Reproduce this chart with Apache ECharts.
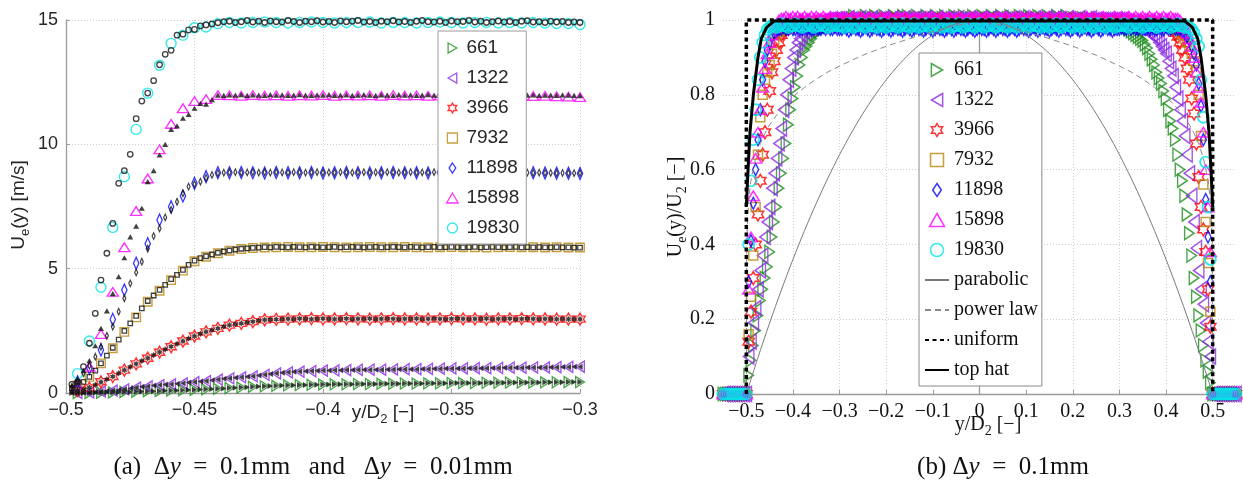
<!DOCTYPE html>
<html><head><meta charset="utf-8">
<script src="https://cdn.jsdelivr.net/npm/echarts@6/dist/echarts.min.js"></script>
<style>html,body{margin:0;padding:0;background:#fff}#c{width:1243px;height:484px}</style>
</head><body><div id="c"></div>
<script>
// ---------- labels ----------
const reynolds = ['661','1322','3966','7932','11898','15898','19830'];
const profileNames = ['parabolic','power law','uniform','top hat'];
const leftXTicks = [-0.5,-0.45,-0.4,-0.35,-0.3];
const rightXTicks = [-0.5,-0.4,-0.3,-0.2,-0.1,0,0.1,0.2,0.3,0.4,0.5];

// ---------- panel (a): y/D2 stations ----------
const xCoarse = [-0.4955,-0.4909,-0.4864,-0.4818,-0.4773,-0.4727,-0.4682,-0.4636,-0.4591,-0.4545,
-0.4500,-0.4455,-0.4409,-0.4364,-0.4318,-0.4273,-0.4227,-0.4182,-0.4136,-0.4091,
-0.4045,-0.4000,-0.3955,-0.3909,-0.3864,-0.3818,-0.3773,-0.3727,-0.3682,-0.3636,
-0.3591,-0.3545,-0.3500,-0.3455,-0.3409,-0.3364,-0.3318,-0.3273,-0.3227,-0.3182,
-0.3136,-0.3091,-0.3045,-0.3000];
const xFine = [-0.4977,-0.4955,-0.4932,-0.4909,-0.4886,-0.4864,-0.4841,-0.4818,-0.4795,-0.4773,
-0.4750,-0.4727,-0.4705,-0.4682,-0.4659,-0.4636,-0.4614,-0.4591,-0.4568,-0.4545,
-0.4523,-0.4500,-0.4477,-0.4455,-0.4432,-0.4409,-0.4386,-0.4364,-0.4341,-0.4318,
-0.4295,-0.4273,-0.4250,-0.4227,-0.4205,-0.4182,-0.4159,-0.4136,-0.4114,-0.4091,
-0.4068,-0.4045,-0.4023,-0.4000,-0.3977,-0.3955,-0.3932,-0.3909,-0.3886,-0.3864,
-0.3841,-0.3818,-0.3795,-0.3773,-0.3750,-0.3727,-0.3705,-0.3682,-0.3659,-0.3636,
-0.3614,-0.3591,-0.3568,-0.3545,-0.3523,-0.3500,-0.3477,-0.3455,-0.3432,-0.3409,
-0.3386,-0.3364,-0.3341,-0.3318,-0.3295,-0.3273,-0.3250,-0.3227,-0.3205,-0.3182,
-0.3159,-0.3136,-0.3114,-0.3091,-0.3068,-0.3045,-0.3023,-0.3000];

// panel (a): U_e [m/s], dy = 0.1 mm (coloured markers)
const a661 = [0,0,0.01,0.02,0.04,0.05,0.07,0.08,0.1,0.11,0.13,0.15,0.17,0.2,0.22,0.25,0.27,0.29,0.31,0.32,0.33,0.34,0.35,0.35,0.36,0.36,0.37,0.37,0.38,0.38,0.39,0.39,0.4,0.4,0.4,0.41,0.41,0.42,0.42,0.42,0.43,0.43,0.44,0.44];
const a1322 = [0,0.02,0.06,0.1,0.15,0.22,0.27,0.32,0.35,0.39,0.44,0.48,0.54,0.59,0.63,0.67,0.73,0.79,0.83,0.86,0.88,0.9,0.91,0.92,0.93,0.94,0.94,0.95,0.96,0.96,0.97,0.98,0.99,0.99,1,1,1.01,1.02,1.02,1.03,1.03,1.04,1.05,1.06];
const a3966 = [0.1,0.2,0.45,0.66,0.92,1.17,1.4,1.64,1.86,2.09,2.29,2.46,2.6,2.73,2.8,2.87,2.94,2.96,2.97,2.98,2.99,2.98,2.98,2.99,2.98,2.97,2.98,2.99,2.98,2.98,2.97,2.98,2.99,2.98,2.98,2.97,2.98,2.98,2.99,2.98,2.98,2.97,2.97,2.97];
const a7932 = [0.3,0.65,1.19,1.8,2.46,3.04,3.67,4.11,4.54,4.92,5.3,5.48,5.62,5.72,5.79,5.83,5.85,5.86,5.87,5.86,5.86,5.87,5.86,5.85,5.86,5.87,5.86,5.86,5.87,5.86,5.85,5.86,5.87,5.86,5.86,5.85,5.86,5.87,5.86,5.86,5.85,5.86,5.85,5.85];
const a11898 = [0.45,1,1.73,2.96,4.14,5.22,6,6.96,7.49,7.92,8.43,8.7,8.86,8.86,8.87,8.86,8.85,8.87,8.86,8.86,8.87,8.85,8.86,8.87,8.86,8.85,8.86,8.87,8.86,8.86,8.85,8.87,8.86,8.86,8.85,8.86,8.87,8.86,8.85,8.86,8.85,8.84,8.84,8.83];
const a15898 = [0.3,1.06,2.37,4.07,5.86,7.32,8.63,9.8,10.82,11.45,11.74,11.82,11.98,11.97,11.95,11.98,11.96,11.97,11.95,11.97,11.96,11.98,11.95,11.97,11.96,11.97,11.95,11.98,11.96,11.97,11.95,11.96,11.97,11.95,11.96,11.97,11.95,11.96,11.95,11.94,11.95,11.93,11.92,11.9];
const a19830 = [0.78,2.09,4.25,6.66,8.7,10.6,12.06,13.18,14.06,14.39,14.69,14.72,14.85,14.9,14.88,14.9,14.92,14.9,14.88,14.9,14.92,14.9,14.88,14.9,14.9,14.92,14.88,14.9,14.9,14.88,14.9,14.92,14.9,14.88,14.9,14.9,14.88,14.9,14.88,14.9,14.88,14.86,14.86,14.82];

// panel (a): U_e [m/s], dy = 0.01 mm (small black markers)
const k661 = [0,0,0,0,0.01,0.01,0.02,0.02,0.03,0.04,0.045,0.05,0.06,0.07,0.075,0.08,0.09,0.1,0.105,0.11,0.12,0.13,0.14,0.15,0.16,0.17,0.185,0.2,0.21,0.22,0.235,0.25,0.26,0.27,0.28,0.29,0.3,0.31,0.315,0.32,0.325,0.33,0.335,0.34,0.345,0.35,0.35,0.35,0.355,0.36,0.36,0.36,0.365,0.37,0.37,0.37,0.375,0.38,0.38,0.38,0.385,0.39,0.39,0.39,0.395,0.4,0.4,0.4,0.4,0.4,0.405,0.41,0.41,0.41,0.415,0.42,0.42,0.42,0.42,0.42,0.425,0.43,0.43,0.43,0.435,0.44,0.44,0.44];
const k1322 = [0,0,0.01,0.02,0.04,0.06,0.08,0.1,0.12,0.15,0.18,0.22,0.25,0.27,0.3,0.32,0.34,0.35,0.37,0.39,0.42,0.44,0.46,0.48,0.51,0.54,0.57,0.59,0.61,0.63,0.65,0.67,0.7,0.73,0.76,0.79,0.81,0.83,0.85,0.86,0.87,0.88,0.89,0.9,0.905,0.91,0.915,0.92,0.925,0.93,0.935,0.94,0.94,0.94,0.945,0.95,0.955,0.96,0.96,0.96,0.965,0.97,0.975,0.98,0.985,0.99,0.99,0.99,0.995,1,1,1,1.005,1.01,1.015,1.02,1.02,1.02,1.025,1.03,1.03,1.03,1.035,1.04,1.045,1.05,1.055,1.06];
const k3966 = [0.08,0.1,0.15,0.22,0.33,0.44,0.55,0.66,0.79,0.92,1.05,1.17,1.29,1.4,1.52,1.64,1.75,1.86,1.98,2.09,2.19,2.29,2.38,2.46,2.53,2.6,2.67,2.73,2.77,2.8,2.84,2.87,2.91,2.94,2.95,2.96,2.97,2.98,2.97,2.99,2.98,2.97,2.98,2.99,2.98,2.97,2.98,2.99,2.97,2.98,2.98,2.99,2.97,2.98,2.99,2.98,2.97,2.98,2.98,2.99,2.97,2.98,2.99,2.98,2.97,2.98,2.99,2.98,2.97,2.98,2.98,2.99,2.97,2.98,2.98,2.99,2.97,2.98,2.99,2.98,2.97,2.98,2.98,2.97,2.98,2.97,2.97,2.97];
const k7932 = [0.2,0.3,0.45,0.65,0.9,1.19,1.5,1.82,2.15,2.5,2.8,3.1,3.4,3.7,3.92,4.15,4.35,4.58,4.75,4.95,5.15,5.32,5.42,5.5,5.57,5.64,5.69,5.73,5.77,5.8,5.82,5.84,5.85,5.87,5.86,5.88,5.87,5.86,5.88,5.87,5.86,5.88,5.87,5.86,5.87,5.88,5.86,5.87,5.88,5.87,5.86,5.87,5.88,5.86,5.87,5.88,5.87,5.86,5.88,5.87,5.86,5.87,5.88,5.86,5.87,5.88,5.87,5.86,5.87,5.88,5.86,5.87,5.88,5.87,5.86,5.87,5.88,5.86,5.87,5.86,5.87,5.86,5.86,5.87,5.86,5.86,5.85,5.85];
const k11898 = [0.25,0.5,0.8,1.1,1.46,1.86,2.3,2.67,3.27,3.81,4.41,4.85,5.28,5.8,6.31,6.62,7.06,7.36,7.69,8.03,8.3,8.4,8.5,8.65,8.77,8.84,8.86,8.87,8.88,8.86,8.87,8.88,8.86,8.87,8.86,8.88,8.87,8.86,8.88,8.87,8.86,8.87,8.88,8.86,8.87,8.86,8.88,8.87,8.86,8.87,8.88,8.86,8.87,8.86,8.88,8.87,8.86,8.87,8.88,8.86,8.87,8.86,8.88,8.87,8.86,8.87,8.88,8.86,8.87,8.86,8.88,8.87,8.86,8.87,8.86,8.87,8.86,8.85,8.86,8.85,8.86,8.85,8.85,8.84,8.85,8.84,8.84,8.84];
const k15898 = [0.3,0.55,0.9,1.3,1.9,2.6,3.3,4,4.68,5.44,6.28,6.71,7.43,8.5,8.94,9.57,10,10.6,10.74,11.05,11.2,11.45,11.65,11.62,11.8,11.98,11.97,11.99,11.98,12,11.97,11.99,11.98,11.97,12,11.98,11.99,11.97,11.98,12,11.98,11.97,11.99,11.98,12,11.97,11.98,11.99,11.97,11.98,12,11.98,11.97,11.99,11.98,11.97,12,11.98,11.99,11.97,11.98,12,11.98,11.97,11.99,11.98,11.97,12,11.98,11.99,11.97,11.98,12,11.98,11.97,11.99,11.98,11.97,11.98,11.99,11.97,11.98,11.98,11.97,11.99,11.98,11.97,11.96];
const k19830 = [0.35,0.45,1.06,2,3.2,4.54,5.62,6.82,8.43,8.94,9.6,11.03,11.74,12.06,12.56,13.2,13.62,13.78,14.39,14.43,14.6,14.62,14.76,14.8,14.84,14.89,14.93,14.95,14.9,14.93,14.98,14.92,14.95,14.9,14.96,14.93,14.92,14.98,14.94,14.9,14.95,14.93,14.97,14.92,14.94,14.9,14.96,14.93,14.95,14.98,14.92,14.94,14.9,14.95,14.93,14.97,14.92,14.94,14.9,14.95,14.98,14.93,14.92,14.95,14.9,14.96,14.93,14.94,14.98,14.92,14.95,14.9,14.93,14.96,14.92,14.94,14.9,14.95,14.97,14.92,14.93,14.9,14.95,14.92,14.94,14.9,14.92,14.9];

// ---------- panel (b): y/D2 stations ----------
const xR = [-0.55,-0.545,-0.54,-0.535,-0.53,-0.525,-0.52,-0.515,-0.51,-0.505,
-0.5,-0.495,-0.49,-0.485,-0.48,-0.475,-0.47,-0.465,-0.46,-0.455,
-0.45,-0.445,-0.44,-0.435,-0.43,-0.425,-0.42,-0.415,-0.41,-0.405,
-0.4,-0.395,-0.39,-0.385,-0.38,-0.375,-0.37,-0.365,-0.36,-0.355,
-0.35,-0.345,-0.34,-0.335,-0.33,-0.325,-0.32,-0.315,-0.31,-0.305,
-0.3,-0.295,-0.29,-0.285,-0.28,-0.275,-0.27,-0.265,-0.26,-0.255,
-0.25,-0.245,-0.24,-0.235,-0.23,-0.225,-0.22,-0.215,-0.21,-0.205,
-0.2,-0.195,-0.19,-0.185,-0.18,-0.175,-0.17,-0.165,-0.16,-0.155,
-0.15,-0.145,-0.14,-0.135,-0.13,-0.125,-0.12,-0.115,-0.11,-0.105,
-0.1,-0.095,-0.09,-0.085,-0.08,-0.075,-0.07,-0.065,-0.06,-0.055,
-0.05,-0.045,-0.04,-0.035,-0.03,-0.025,-0.02,-0.015,-0.01,-0.005,
0,0.005,0.01,0.015,0.02,0.025,0.03,0.035,0.04,0.045,
0.05,0.055,0.06,0.065,0.07,0.075,0.08,0.085,0.09,0.095,
0.1,0.105,0.11,0.115,0.12,0.125,0.13,0.135,0.14,0.145,
0.15,0.155,0.16,0.165,0.17,0.175,0.18,0.185,0.19,0.195,
0.2,0.205,0.21,0.215,0.22,0.225,0.23,0.235,0.24,0.245,
0.25,0.255,0.26,0.265,0.27,0.275,0.28,0.285,0.29,0.295,
0.3,0.305,0.31,0.315,0.32,0.325,0.33,0.335,0.34,0.345,
0.35,0.355,0.36,0.365,0.37,0.375,0.38,0.385,0.39,0.395,
0.4,0.405,0.41,0.415,0.42,0.425,0.43,0.435,0.44,0.445,
0.45,0.455,0.46,0.465,0.47,0.475,0.48,0.485,0.49,0.495,
0.5,0.505,0.51,0.515,0.52,0.525,0.53,0.535,0.54,0.545,0.55];
// U_e/U_2 outside the pipe (|y/D2| >= 0.5)
const wallZeros = [0,0,0,0,0,0,0,0,0,0,0];
// rising side, y/D2 = -0.495 .. -0.3
const rise661 = [0.05,0.09,0.13,0.17,0.21,0.25,0.28,0.31,0.34,0.38,0.42,0.46,0.5,0.55,0.59,0.63,0.67,0.72,0.76,0.79,0.82,0.85,0.88,0.9,0.92,0.93,0.94,0.95,0.96,0.965,0.97,0.975,0.98,0.98,0.985,0.99,0.99,0.995,0.995,1];
const rise1322 = [0.1,0.14,0.19,0.23,0.28,0.33,0.37,0.42,0.46,0.5,0.55,0.59,0.63,0.67,0.71,0.76,0.8,0.84,0.87,0.9,0.92,0.94,0.95,0.96,0.97,0.975,0.98,0.98,0.985,0.99,0.99,0.995,0.995,1,1,1,1,1,1,1];
const rise3966 = [0.14,0.22,0.31,0.4,0.48,0.57,0.64,0.7,0.76,0.81,0.86,0.89,0.92,0.94,0.96,0.97,0.975,0.98,0.985,0.99,0.99,0.99,0.995,0.995,0.99,0.995,0.995,0.99,0.995,0.995,0.99,0.995,0.995,0.99,0.995,0.995,0.99,0.995,0.995,0.995];
const rise7932 = [0.16,0.26,0.37,0.5,0.64,0.74,0.8,0.84,0.86,0.88,0.91,0.94,0.96,0.97,0.975,0.98,0.985,0.99,0.99,0.99,0.995,0.99,0.99,0.995,0.99,0.99,0.995,0.99,0.99,0.995,0.99,0.99,0.995,0.99,0.99,0.995,0.99,0.99,0.995,0.99];
const rise11898 = [0.3,0.41,0.51,0.6,0.68,0.76,0.84,0.89,0.92,0.94,0.955,0.965,0.97,0.975,0.975,0.98,0.975,0.975,0.98,0.975,0.975,0.98,0.975,0.975,0.98,0.975,0.98,0.975,0.975,0.98,0.975,0.975,0.98,0.975,0.98,0.975,0.975,0.98,0.975,0.975];
const rise15898 = [0.28,0.42,0.53,0.63,0.7,0.76,0.82,0.87,0.91,0.94,0.96,0.98,0.99,1,1.005,1.005,1.01,1.005,1.005,1.01,1.005,1.01,1.005,1.005,1.01,1.005,1.005,1.01,1.005,1.01,1.005,1.005,1.01,1.005,1.005,1.01,1.005,1.005,1.01,1.005];
const rise19830 = [0.4,0.57,0.68,0.76,0.84,0.9,0.94,0.96,0.975,0.98,0.985,0.985,0.98,0.985,0.99,0.985,0.985,0.98,0.985,0.985,0.99,0.985,0.985,0.98,0.985,0.985,0.99,0.985,0.98,0.985,0.985,0.99,0.985,0.985,0.98,0.985,0.985,0.99,0.985,0.985];
// core, y/D2 = -0.295 .. 0.295
const core661 = [1,1,1.005,1,1.005,1.01,1,1.005,1,1.005,1.01,1.005,1,1.005,1.01,1.005,1,1.005,1.01,1.005,1,1.005,1.01,1.005,1,1.005,1.01,1.005,1.01,1.005,1,1.005,1.01,1.005,1,1.005,1.01,1.005,1,1.005,1.01,1.005,1,1.005,1.01,1.005,1,1.005,1.01,1.005,1,1.005,1.01,1.005,1,1.005,1.01,1.005,1,1.005,1.01,1.005,1,1.005,1.01,1.005,1,1.005,1.01,1.005,1,1.005,1.01,1.005,1,1.005,1.01,1.005,1,1.005,1.01,1.005,1,1.005,1.01,1.005,1,1.005,1.01,1.005,1,1.005,1.01,1.005,1,1.005,1.01,1.005,1,1.005,1,1.005,1,1.005,1,1,1.005,1,1,1.005,1,1,0.995,1,0.995,0.995,1,0.995,0.99];
const core1322 = [1,0.995,1,1.005,1,1,0.995,1,1.005,1,1,0.995,1,1.005,1,0.995,1,1,1.005,1,0.995,1,1.005,1,1,0.995,1,1.005,1,0.995,1,1,1.005,1,0.995,1,1.005,1,1,0.995,1,1.005,1,0.995,1,1,1.005,1,0.995,1,1.005,1,1,0.995,1,1.005,1,0.995,1,1,1.005,1,0.995,1,1.005,1,1,0.995,1,1.005,1,0.995,1,1,1.005,1,0.995,1,1.005,1,1,0.995,1,1.005,1,0.995,1,1,1.005,1,0.995,1,1.005,1,1,0.995,1,1.005,1,0.995,1,1,1.005,1,0.995,1,1,1.005,1,1,1,1,1,1,1,1,1,1,1];
const core3966 = [0.995,0.99,0.995,1,0.995,0.99,0.995,0.995,1,0.995,0.99,0.995,0.995,1,0.995,0.99,0.995,1,0.995,0.995,0.99,0.995,1,0.995,0.995,0.99,0.995,1,0.995,0.99,0.995,0.995,1,0.995,0.99,0.995,0.995,1,0.995,0.99,0.995,1,0.995,0.995,0.99,0.995,1,0.995,0.99,0.995,0.995,1,0.995,0.99,0.995,0.995,1,0.995,0.99,0.995,1,0.995,0.995,0.99,0.995,1,0.995,0.99,0.995,0.995,1,0.995,0.99,0.995,0.995,1,0.995,0.99,0.995,1,0.995,0.995,0.99,0.995,1,0.995,0.99,0.995,0.995,1,0.995,0.99,0.995,0.995,1,0.995,0.99,0.995,1,0.995,0.995,0.99,0.995,1,0.995,0.995,0.99,0.995,1,0.995,0.99,0.995,0.995,1,0.995,0.99,0.995,0.995,0.995];
const core7932 = [0.99,0.985,0.99,0.995,0.99,0.985,0.99,0.99,0.995,0.99,0.985,0.99,0.995,0.99,0.99,0.985,0.99,0.995,0.99,0.985,0.99,0.99,0.995,0.99,0.985,0.99,0.995,0.99,0.99,0.985,0.99,0.995,0.99,0.985,0.99,0.99,0.995,0.99,0.985,0.99,0.995,0.99,0.99,0.985,0.99,0.995,0.99,0.985,0.99,0.99,0.995,0.99,0.985,0.99,0.995,0.99,0.99,0.985,0.99,0.995,0.99,0.985,0.99,0.99,0.995,0.99,0.985,0.99,0.995,0.99,0.99,0.985,0.99,0.995,0.99,0.985,0.99,0.99,0.995,0.99,0.985,0.99,0.995,0.99,0.99,0.985,0.99,0.995,0.99,0.985,0.99,0.99,0.995,0.99,0.985,0.99,0.995,0.99,0.99,0.985,0.99,0.995,0.99,0.985,0.99,0.99,0.995,0.99,0.985,0.99,0.995,0.99,0.99,0.985,0.99,0.995,0.99,0.99,0.99];
const core11898 = [0.975,0.98,0.975,0.97,0.975,0.98,0.975,0.975,0.97,0.975,0.98,0.975,0.97,0.975,0.98,0.975,0.975,0.97,0.975,0.98,0.975,0.97,0.975,0.98,0.975,0.975,0.97,0.975,0.98,0.975,0.97,0.975,0.98,0.975,0.975,0.97,0.975,0.98,0.975,0.97,0.975,0.98,0.975,0.975,0.97,0.975,0.98,0.975,0.97,0.975,0.98,0.975,0.975,0.97,0.975,0.98,0.975,0.97,0.975,0.98,0.975,0.975,0.97,0.975,0.98,0.975,0.97,0.975,0.98,0.975,0.975,0.97,0.975,0.98,0.975,0.97,0.975,0.98,0.975,0.975,0.97,0.975,0.98,0.975,0.97,0.975,0.98,0.975,0.975,0.97,0.975,0.98,0.975,0.97,0.975,0.98,0.975,0.975,0.97,0.975,0.98,0.975,0.97,0.975,0.98,0.975,0.975,0.97,0.975,0.98,0.975,0.97,0.975,0.98,0.975,0.975,0.97,0.975,0.975];
const core15898 = [1.005,1.01,1.005,1,1.005,1.01,1.005,1.005,1.01,1.005,1,1.005,1.01,1.005,1.005,1,1.005,1.01,1.005,1.005,1.01,1.005,1,1.005,1.01,1.005,1.005,1.01,1.005,1,1.005,1.01,1.005,1.005,1,1.005,1.01,1.005,1.005,1.01,1.005,1,1.005,1.01,1.005,1.005,1.01,1.005,1,1.005,1.01,1.005,1.005,1,1.005,1.01,1.005,1.005,1.01,1.005,1,1.005,1.01,1.005,1.005,1,1.005,1.01,1.005,1.005,1.01,1.005,1,1.005,1.01,1.005,1.005,1.01,1.005,1,1.005,1.01,1.005,1.005,1,1.005,1.01,1.005,1.005,1.01,1.005,1,1.005,1.01,1.005,1.005,1.01,1.005,1,1.005,1.01,1.005,1.005,1,1.005,1.01,1.005,1.005,1.01,1.005,1,1.005,1.01,1.005,1.005,1,1.005,1.01,1.005];
const core19830 = [0.985,0.98,0.985,0.99,0.985,0.98,0.985,0.985,0.99,0.985,0.98,0.985,0.99,0.985,0.985,0.98,0.985,0.99,0.985,0.98,0.985,0.985,0.99,0.985,0.98,0.985,0.99,0.985,0.985,0.98,0.985,0.99,0.985,0.98,0.985,0.985,0.99,0.985,0.98,0.985,0.99,0.985,0.985,0.98,0.985,0.99,0.985,0.98,0.985,0.985,0.99,0.985,0.98,0.985,0.99,0.985,0.985,0.98,0.985,0.99,0.985,0.98,0.985,0.985,0.99,0.985,0.98,0.985,0.99,0.985,0.985,0.98,0.985,0.99,0.985,0.98,0.985,0.985,0.99,0.985,0.98,0.985,0.99,0.985,0.985,0.98,0.985,0.99,0.985,0.98,0.985,0.985,0.99,0.985,0.98,0.985,0.99,0.985,0.985,0.98,0.985,0.99,0.985,0.98,0.985,0.985,0.99,0.985,0.98,0.985,0.99,0.985,0.985,0.98,0.985,0.99,0.985,0.98,0.985];
// falling side, y/D2 = 0.3 .. 0.495
const fall661 = [0.99,0.99,0.985,0.98,0.975,0.97,0.965,0.96,0.955,0.95,0.945,0.935,0.925,0.91,0.895,0.88,0.86,0.845,0.83,0.81,0.79,0.76,0.73,0.71,0.68,0.64,0.6,0.57,0.53,0.48,0.43,0.37,0.31,0.26,0.21,0.17,0.13,0.09,0.06,0.03];
const fall1322 = [1,1,1,0.995,0.995,0.99,0.99,0.985,0.985,0.98,0.98,0.975,0.97,0.965,0.96,0.955,0.95,0.94,0.93,0.92,0.91,0.89,0.87,0.85,0.82,0.79,0.76,0.73,0.69,0.64,0.59,0.53,0.46,0.39,0.33,0.28,0.24,0.19,0.14,0.1];
const fall3966 = [0.995,0.995,0.99,0.995,0.995,0.99,0.995,0.995,0.99,0.995,0.995,0.99,0.995,0.995,0.99,0.995,0.99,0.99,0.99,0.99,0.99,0.985,0.98,0.975,0.965,0.955,0.94,0.92,0.9,0.87,0.84,0.79,0.75,0.67,0.58,0.5,0.44,0.38,0.28,0.18];
const fall7932 = [0.99,0.995,0.99,0.99,0.995,0.99,0.99,0.995,0.99,0.99,0.995,0.99,0.99,0.995,0.99,0.99,0.995,0.99,0.99,0.995,0.99,0.99,0.99,0.985,0.98,0.975,0.97,0.96,0.95,0.94,0.93,0.91,0.89,0.86,0.8,0.69,0.56,0.46,0.35,0.22];
const fall11898 = [0.975,0.98,0.975,0.975,0.98,0.975,0.98,0.975,0.975,0.98,0.975,0.975,0.98,0.975,0.98,0.975,0.975,0.98,0.975,0.975,0.98,0.975,0.975,0.98,0.975,0.975,0.975,0.97,0.965,0.955,0.945,0.93,0.91,0.88,0.83,0.77,0.68,0.52,0.42,0.3];
const fall15898 = [1.005,1.01,1.005,1.005,1.01,1.005,1.005,1.01,1.005,1.005,1.01,1.005,1.005,1.01,1.005,1.005,1.01,1.005,1.005,1.01,1.005,1.005,1.01,1.005,1.005,1.005,1,0.99,0.98,0.965,0.95,0.93,0.9,0.86,0.82,0.78,0.7,0.6,0.5,0.38];
const fall19830 = [0.985,0.985,0.99,0.985,0.98,0.985,0.985,0.99,0.985,0.985,0.98,0.985,0.985,0.99,0.985,0.985,0.98,0.985,0.985,0.99,0.985,0.985,0.98,0.985,0.985,0.99,0.985,0.985,0.98,0.985,0.98,0.975,0.965,0.95,0.93,0.84,0.74,0.62,0.5,0.36];

// reference profiles
const parabX = [-0.5,-0.475,-0.45,-0.425,-0.4,-0.375,-0.35,-0.325,-0.3,-0.275,-0.25,-0.225,-0.2,-0.175,-0.15,-0.125,-0.1,-0.075,-0.05,-0.025,0,0.025,0.05,0.075,0.1,0.125,0.15,0.175,0.2,0.225,0.25,0.275,0.3,0.325,0.35,0.375,0.4,0.425,0.45,0.475,0.5];
const parabV = [0,0.0975,0.19,0.2775,0.36,0.4375,0.51,0.5775,0.64,0.6975,0.75,0.7975,0.84,0.8775,0.91,0.9375,0.96,0.9775,0.99,0.9975,1,0.9975,0.99,0.9775,0.96,0.9375,0.91,0.8775,0.84,0.7975,0.75,0.6975,0.64,0.5775,0.51,0.4375,0.36,0.2775,0.19,0.0975,0];
const powX = [-0.5,-0.499,-0.495,-0.49,-0.48,-0.47,-0.46,-0.45,-0.425,-0.4,-0.375,-0.35,-0.325,-0.3,-0.25,-0.2,-0.15,-0.1,-0.05,0,0.05,0.1,0.15,0.2,0.25,0.3,0.325,0.35,0.375,0.4,0.425,0.45,0.46,0.47,0.48,0.49,0.495,0.499,0.5];
const powV = [0,0.411,0.518,0.572,0.631,0.669,0.697,0.72,0.763,0.795,0.82,0.842,0.861,0.877,0.906,0.93,0.95,0.969,0.985,1,0.985,0.969,0.95,0.93,0.906,0.877,0.861,0.842,0.82,0.795,0.763,0.72,0.697,0.669,0.631,0.572,0.518,0.411,0];
const unifX = [-0.5,-0.5,0.5,0.5];
const unifV = [0,1,1,0];
const hatX = [-0.5,-0.4963,-0.4921,-0.4849,-0.475,-0.4679,-0.4565,-0.4405,-0.4,0.4,0.4405,0.4565,0.4679,0.475,0.4849,0.4921,0.4963,0.5];
const hatV = [0.5,0.6,0.7,0.8,0.9,0.95,0.98,0.997,0.997,0.997,0.997,0.98,0.95,0.9,0.8,0.7,0.6,0.5];

// ---------- build ----------
const SANS = "'Liberation Sans', Arial, Helvetica, sans-serif";
const SERIF = "'Liberation Serif', 'Times New Roman', serif";
const COL = ['#1f8f1f','#8a2be2','#ff0000','#b8860b','#0000ff','#ff00ff','#00e5e5'];
const SYM = {
  right:'path://M0,0L8.66,5L0,10Z',
  left:'path://M8.66,0L0,5L8.66,10Z',
  hex:'path://M5,0L6.443,2.5L9.33,2.5L7.887,5L9.33,7.5L6.443,7.5L5,10L3.557,7.5L0.67,7.5L2.113,5L0.67,2.5L3.557,2.5Z',
  sq:'path://M0,0L10,0L10,10L0,10Z',
  dia:'path://M4,0L8,6L4,12L0,6Z',
  up:'path://M5,0L10,8.66L0,8.66Z'
};
const symOf = [SYM.right, SYM.left, SYM.hex, SYM.sq, SYM.dia, SYM.up, 'circle'];
const sizeA = [[10,11],[10,11],12,8.5,[8,12],[11,10],10];
const sizeB = [[11,13],[12,15],13,9,[9,12],[12,11],11];
const sizeK = [[6,6],[6,6],6.5,4.5,[4.5,6.5],[6,6],5.5];
const fillK = [true,true,true,false,false,true,false];
const bwB = [1.5,1.5,1.5,1.5,1.5,1.5,1.8];
const colored = [a661,a1322,a3966,a7932,a11898,a15898,a19830];
const fine = [k661,k1322,k3966,k7932,k11898,k15898,k19830];
const rises = [rise661,rise1322,rise3966,rise7932,rise11898,rise15898,rise19830];
const cores = [core661,core1322,core3966,core7932,core11898,core15898,core19830];
const falls = [fall661,fall1322,fall3966,fall7932,fall11898,fall15898,fall19830];
const pairs = (xs, vs) => xs.map((x, i) => [x, vs[i]]).filter(p => p[1] !== undefined);
const fmt = v => String(Math.round(v * 100) / 100).replace('-', '\u2212');
const NONE = 'rgba(0,0,0,0)';

const series = [];
reynolds.forEach((re, i) => {
  series.push({type:'scatter', name:'a' + re, xAxisIndex:0, yAxisIndex:0, data:pairs(xCoarse, colored[i]),
    symbol:symOf[i], symbolSize:sizeA[i], symbolKeepAspect:true, silent:true, clip:false,
    itemStyle:{color:NONE, borderColor:COL[i], borderWidth:1.4}});
});
reynolds.forEach((re, i) => {
  series.push({type:'scatter', name:'k' + re, xAxisIndex:0, yAxisIndex:0, data:pairs(xFine, fine[i]),
    symbol:symOf[i], symbolSize:sizeK[i], symbolKeepAspect:true, silent:true, clip:false,
    itemStyle: fillK[i] ? {color:'#111'} : {color:NONE, borderColor:'#111', borderWidth:1.3}});
});
reynolds.forEach((re, i) => {
  const vals = [...wallZeros, ...rises[i], ...cores[i], ...falls[i], ...wallZeros];
  series.push({type:'scatter', name:'b' + re, xAxisIndex:1, yAxisIndex:1, data:pairs(xR, vals),
    symbol:symOf[i], symbolSize:sizeB[i], symbolKeepAspect:true, silent:true, clip:false,
    itemStyle:{color:NONE, borderColor:COL[i], borderWidth:bwB[i]}});
});
const lineDefs = [
  ['parabolic', parabX, parabV, {color:'#7a7a7a', width:1, type:'solid'}, true],
  ['power law', powX, powV, {color:'#8a8a8a', width:1, type:[6,4]}, false],
  ['uniform', unifX, unifV, {color:'#000', width:3.5, type:[4,3.5]}, false],
  ['top hat', hatX, hatV, {color:'#000', width:3, type:'solid'}, false]
];
lineDefs.forEach(([name, xs, vs, ls, sm]) => {
  series.push({type:'line', name, xAxisIndex:1, yAxisIndex:1, data:pairs(xs, vs), showSymbol:false, symbol:'none',
    smooth:sm ? 0.3 : false, clip:false, silent:true, lineStyle:ls, itemStyle:{color:ls.color}});
});

const legendA = reynolds.map((re, i) => ({name:'a' + re, icon:symOf[i],
  itemStyle:{color:NONE, borderColor:COL[i], borderWidth:1.3}}));
const legendB = reynolds.map((re, i) => ({name:'b' + re, icon:symOf[i],
  itemStyle:{color:NONE, borderColor:COL[i], borderWidth:1.5}}))
  .concat(profileNames.map(n => ({name:n, itemStyle:{color:NONE, borderColor:NONE, borderWidth:0, opacity:0}})));
const legendFmt = n => n.replace(/^[ab](?=\d)/, '');

const axisCommon = (font, size, color) => ({
  axisLine:{show:true, lineStyle:{color:'#9a9a9a', width:1.3}},
  axisTick:{show:true, inside:true, length:4, lineStyle:{color:'#9a9a9a'}},
  splitLine:{show:true, lineStyle:{color:'#cfcfcf', width:1, type:[1,2]}},
  axisLabel:{fontFamily:font, fontSize:size, color:color, formatter:fmt}
});

const option = {
  animation:false,
  backgroundColor:'#fff',
  textStyle:{fontFamily:SANS},
  grid:[
    {left:66, top:20, width:514, height:373, containLabel:false, outerBoundsMode:'none'},
    {left:723, top:20, width:513, height:374, containLabel:false, outerBoundsMode:'none'}
  ],
  xAxis:[
    Object.assign(axisCommon(SANS, 18, '#262626'), {gridIndex:0, type:'value', min:-0.5, max:-0.3, interval:0.05}),
    (() => { const a = axisCommon(SERIF, 20, '#111');
      a.axisTick.customValues = rightXTicks; a.axisLabel.customValues = rightXTicks;
      return Object.assign(a, {gridIndex:1, type:'value', min:-0.55, max:0.55}); })()
  ],
  yAxis:[
    Object.assign(axisCommon(SANS, 18, '#262626'), {gridIndex:0, type:'value', min:0, max:15, interval:5}),
    Object.assign(axisCommon(SERIF, 20, '#111'), {gridIndex:1, type:'value', min:0, max:1, interval:0.2})
  ],
  legend:[
    {orient:'vertical', left:438, top:31, padding:[7,7,6,8], itemWidth:18, itemHeight:10, itemGap:10,
     borderColor:'#9a9a9a', borderWidth:1, backgroundColor:'#fff', selectedMode:false, formatter:legendFmt,
     textStyle:{fontFamily:SANS, fontSize:19, color:'#262626', lineHeight:20}, data:legendA},
    {orient:'vertical', left:919, top:53, padding:[7,4,6,5], itemWidth:24, itemHeight:13, itemGap:10,
     borderColor:'#8a8a8a', borderWidth:1, backgroundColor:'#fff', selectedMode:false, formatter:legendFmt,
     textStyle:{fontFamily:SERIF, fontSize:20, color:'#111', lineHeight:20}, data:legendB}
  ],
  graphic:[
    {type:'text', x:19, y:205, rotation:Math.PI/2, silent:true, style:{text:'{n|U}{s|e}{n|(y) [m/s]}', align:'center', verticalAlign:'middle',
      rich:{n:{fontFamily:SANS, fontSize:19, fill:'#262626', lineHeight:26, verticalAlign:'middle'},
            s:{fontFamily:SANS, fontSize:13, fill:'#262626', lineHeight:13, verticalAlign:'bottom'}}}},
    {type:'text', x:383, y:413, silent:true, style:{text:'{n|y/D}{s|2}{n| [\u2212]}', align:'center', verticalAlign:'middle',
      rich:{n:{fontFamily:SANS, fontSize:19, fill:'#262626', lineHeight:26, verticalAlign:'middle'},
            s:{fontFamily:SANS, fontSize:13, fill:'#262626', lineHeight:13, verticalAlign:'bottom'}}}},
    {type:'text', x:676, y:207, rotation:Math.PI/2, silent:true, style:{text:'{n|U}{s|e}{n|(y)/U}{s|2}{n| [\u2212]}', align:'center', verticalAlign:'middle',
      rich:{n:{fontFamily:SERIF, fontSize:20, fill:'#111', lineHeight:26, verticalAlign:'middle'},
            s:{fontFamily:SERIF, fontSize:14, fill:'#111', lineHeight:14, verticalAlign:'bottom'}}}},
    {type:'text', x:988, y:425, silent:true, style:{text:'{n|y/D}{s|2}{n| [\u2212]}', align:'center', verticalAlign:'middle',
      rich:{n:{fontFamily:SERIF, fontSize:20, fill:'#111', lineHeight:26, verticalAlign:'middle'},
            s:{fontFamily:SERIF, fontSize:14, fill:'#111', lineHeight:14, verticalAlign:'bottom'}}}},
    {type:'text', x:313, y:467, silent:true, style:{text:'{n|(a)  \u0394}{i|y}{n|  =  0.1mm   and   \u0394}{i|y}{n|  =  0.01mm}', align:'center', verticalAlign:'middle',
      rich:{n:{fontFamily:SERIF, fontSize:25, fill:'#111'}, i:{fontFamily:SERIF, fontSize:25, fontStyle:'italic', fill:'#111'}}}},
    {type:'text', x:1003, y:467, silent:true, style:{text:'{n|(b) \u0394}{i|y}{n|  =  0.1mm}', align:'center', verticalAlign:'middle',
      rich:{n:{fontFamily:SERIF, fontSize:25, fill:'#111'}, i:{fontFamily:SERIF, fontSize:25, fontStyle:'italic', fill:'#111'}}}}
  ],
  series
};
const chart = echarts.init(document.getElementById('c'), null, {renderer:'canvas'});
chart.setOption(option);
</script></body></html>
